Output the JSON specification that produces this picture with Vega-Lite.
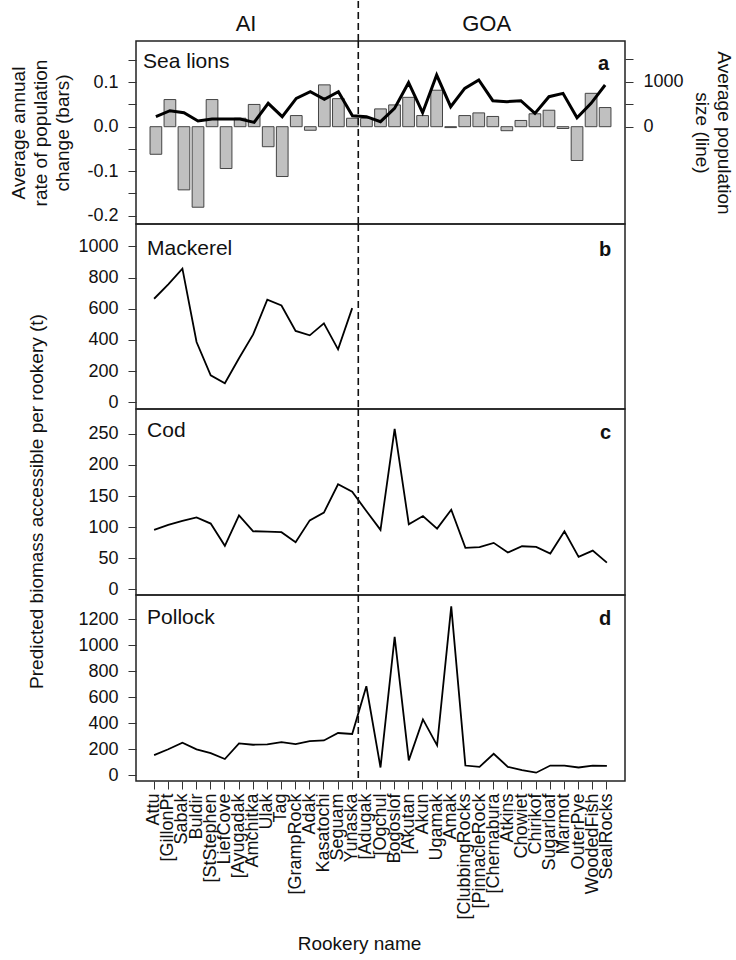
{
  "$schema": "https://vega.github.io/schema/vega-lite/v6.json",
  "padding": {"left": 9, "top": 0, "right": 5, "bottom": 5},
  "config": {
    "font": "Liberation Sans",
    "view": {"stroke": "#222", "strokeWidth": 1.5},
    "axis": {"labelFont": "Liberation Sans", "labelFontSize": 18, "labelColor": "#111", "tickColor": "#333", "tickSize": 8, "tickWidth": 1, "domain": false, "grid": false, "titleFont": "Liberation Sans", "titleFontSize": 19, "titleFontWeight": "normal", "titleColor": "#111", "labelPadding": 10, "labelOverlap": false},
    "axisQuantitative": {"labelOverlap": false},
    "concat": {"spacing": 0}
  },
  "datasets": {
    "rk": [
      {"r": "Attu", "bar": -0.062, "pop": 222, "mack": 664, "cod": 95.7, "pol": 155},
      {"r": "GillonPt", "bar": 0.061, "pop": 356, "mack": 757, "cod": 103.7, "pol": 200},
      {"r": "Sabak", "bar": -0.142, "pop": 311, "mack": 857, "cod": 110, "pol": 250},
      {"r": "Buldir", "bar": -0.181, "pop": 126, "mack": 386, "cod": 115.8, "pol": 200},
      {"r": "StStephen", "bar": 0.061, "pop": 170, "mack": 172, "cod": 105.8, "pol": 170},
      {"r": "LiefCove", "bar": -0.094, "pop": 170, "mack": 121, "cod": 70, "pol": 125},
      {"r": "Ayugadak", "bar": 0.019, "pop": 170, "mack": 282, "cod": 119, "pol": 245},
      {"r": "Amchitka", "bar": 0.05, "pop": 96, "mack": 435, "cod": 93.5, "pol": 235},
      {"r": "Ulak", "bar": -0.045, "pop": 519, "mack": 658, "cod": 93, "pol": 238},
      {"r": "Tag", "bar": -0.112, "pop": 222, "mack": 621, "cod": 92, "pol": 255},
      {"r": "GrampRock", "bar": 0.025, "pop": 630, "mack": 457, "cod": 76, "pol": 240},
      {"r": "Adak", "bar": -0.008, "pop": 778, "mack": 429, "cod": 111, "pol": 262},
      {"r": "Kasatochi", "bar": 0.094, "pop": 607, "mack": 506, "cod": 123.5, "pol": 268},
      {"r": "Seguam", "bar": 0.063, "pop": 778, "mack": 339, "cod": 169, "pol": 325},
      {"r": "Yunaska", "bar": 0.019, "pop": 244, "mack": 604, "cod": 157, "pol": 318},
      {"r": "Adugak", "bar": 0.019, "pop": 222, "mack": null, "cod": 126, "pol": 685},
      {"r": "Ogchul", "bar": 0.04, "pop": 111, "mack": null, "cod": 95.7, "pol": 60},
      {"r": "Bogoslof", "bar": 0.049, "pop": 407, "mack": null, "cod": 258, "pol": 1065},
      {"r": "Akutan", "bar": 0.066, "pop": 978, "mack": null, "cod": 104.8, "pol": 115},
      {"r": "Akun", "bar": 0.025, "pop": 311, "mack": null, "cod": 118, "pol": 430},
      {"r": "Ugamak", "bar": 0.082, "pop": 1148, "mack": null, "cod": 97.8, "pol": 230},
      {"r": "Amak", "bar": -0.002, "pop": 444, "mack": null, "cod": 128, "pol": 1300},
      {"r": "ClubbingRocks", "bar": 0.025, "pop": 852, "mack": null, "cod": 66.7, "pol": 75},
      {"r": "PinnacleRock", "bar": 0.031, "pop": 1037, "mack": null, "cod": 67.8, "pol": 65},
      {"r": "Chernabura", "bar": 0.023, "pop": 578, "mack": null, "cod": 74.8, "pol": 165},
      {"r": "Atkins", "bar": -0.009, "pop": 556, "mack": null, "cod": 59.2, "pol": 65},
      {"r": "Chowiet", "bar": 0.014, "pop": 578, "mack": null, "cod": 69.4, "pol": 40},
      {"r": "Chirikof", "bar": 0.029, "pop": 296, "mack": null, "cod": 68.3, "pol": 20},
      {"r": "Sugarloaf", "bar": 0.037, "pop": 667, "mack": null, "cod": 57.6, "pol": 75},
      {"r": "Marmot", "bar": -0.004, "pop": 741, "mack": null, "cod": 93.5, "pol": 75},
      {"r": "OuterPye", "bar": -0.076, "pop": 200, "mack": null, "cod": 52.2, "pol": 60},
      {"r": "WoodedFish", "bar": 0.075, "pop": 519, "mack": null, "cod": 62.4, "pol": 75},
      {"r": "SealRocks", "bar": 0.043, "pop": 926, "mack": null, "cod": 43.1, "pol": 72}
    ]
  },
  "spacing": 0,
  "bounds": "flush",
  "resolve": {"scale": {"x": "independent", "y": "independent"}},
  "vconcat": [
    {
      "width": 489, "height": 40,
      "view": {"stroke": null},
      "data": {"values": [{"t": "AI", "r": "Ayugadak"}, {"t": "GOA", "r": "PinnacleRock"}]},
      "layer": [
        {
          "mark": {"type": "text", "fontSize": 22, "baseline": "middle", "align": "center", "dy": 3, "color": "#111"},
          "encoding": {
            "x": {"field": "r", "type": "nominal", "bandPosition": 1, "axis": null,
              "scale": {"type": "band", "paddingInner": 0, "paddingOuter": 0.78, "domain": ["Attu","GillonPt","Sabak","Buldir","StStephen","LiefCove","Ayugadak","Amchitka","Ulak","Tag","GrampRock","Adak","Kasatochi","Seguam","Yunaska","Adugak","Ogchul","Bogoslof","Akutan","Akun","Ugamak","Amak","ClubbingRocks","PinnacleRock","Chernabura","Atkins","Chowiet","Chirikof","Sugarloaf","Marmot","OuterPye","WoodedFish","SealRocks"]}},
            "text": {"field": "t"}
          }
        },
        {
          "data": {"values": [{"r": "Yunaska"}]},
          "mark": {"type": "rule", "strokeDash": [7, 4], "strokeWidth": 1.6, "color": "#111"},
          "encoding": {"x": {"field": "r", "type": "nominal", "bandPosition": 0.93, "axis": null}}
        }
      ]
    },
    {
      "width": 489, "height": 183,
      "layer": [
        {
          "layer": [
            {
              "data": {"name": "rk"},
              "mark": {"type": "bar", "fill": "#c0c0c0", "stroke": "#444", "strokeWidth": 1},
              "encoding": {
                "x": {"field": "r", "type": "nominal", "axis": null,
                  "scale": {"type": "band", "paddingInner": 0.1667, "paddingOuter": 1.31, "domain": ["Attu","GillonPt","Sabak","Buldir","StStephen","LiefCove","Ayugadak","Amchitka","Ulak","Tag","GrampRock","Adak","Kasatochi","Seguam","Yunaska","Adugak","Ogchul","Bogoslof","Akutan","Akun","Ugamak","Amak","ClubbingRocks","PinnacleRock","Chernabura","Atkins","Chowiet","Chirikof","Sugarloaf","Marmot","OuterPye","WoodedFish","SealRocks"]}},
                "y": {"field": "bar", "type": "quantitative",
                  "scale": {"domain": [-0.2187, 0.1926], "nice": false, "zero": false},
                  "axis": {"orient": "left", "values": [-0.2, -0.15, -0.1, -0.05, 0, 0.05, 0.1, 0.15], "labelOverlap": false,
                    "labelExpr": "abs(datum.value*10 - round(datum.value*10)) < 0.001 ? replace(format(datum.value, '.1f'), '\u2212', '-') : ''",
                    "title": ["Average annual", "rate of population", "change (bars)"], "titleLineHeight": 22, "titlePadding": 14}}
              }
            },
            {
              "data": {"values": [{"r": "Yunaska"}]},
              "mark": {"type": "rule", "strokeDash": [7, 4], "strokeWidth": 1.6, "color": "#111"},
              "encoding": {"x": {"field": "r", "type": "nominal", "bandPosition": 1}}
            },
            {
              "data": {"values": [{"r": "Attu", "v": 0.145, "t": "Sea lions"}]},
              "mark": {"type": "text", "fontSize": 21, "align": "left", "baseline": "middle", "color": "#111"},
              "encoding": {"x": {"field": "r", "type": "nominal", "bandPosition": -0.6},
                "y": {"field": "v", "type": "quantitative",
                  "axis": {"orient": "left", "values": [-0.2, -0.15, -0.1, -0.05, 0, 0.05, 0.1, 0.15], "labelOverlap": false,
                    "labelExpr": "abs(datum.value*10 - round(datum.value*10)) < 0.001 ? replace(format(datum.value, '.1f'), '\u2212', '-') : ''",
                    "title": ["Average annual", "rate of population", "change (bars)"], "titleLineHeight": 22, "titlePadding": 14}},
                "text": {"field": "t"}}
            },
            {
              "data": {"values": [{"r": "SealRocks", "v": 0.14, "t": "a"}]},
              "mark": {"type": "text", "fontSize": 20, "fontWeight": "bold", "align": "right", "baseline": "middle", "color": "#111"},
              "encoding": {"x": {"field": "r", "type": "nominal", "bandPosition": 0.85},
                "y": {"field": "v", "type": "quantitative",
                  "axis": {"orient": "left", "values": [-0.2, -0.15, -0.1, -0.05, 0, 0.05, 0.1, 0.15], "labelOverlap": false,
                    "labelExpr": "abs(datum.value*10 - round(datum.value*10)) < 0.001 ? replace(format(datum.value, '.1f'), '\u2212', '-') : ''",
                    "title": ["Average annual", "rate of population", "change (bars)"], "titleLineHeight": 22, "titlePadding": 14}},
                "text": {"field": "t"}}
            }
          ]
        },
        {
          "data": {"name": "rk"},
          "mark": {"type": "line", "color": "#000", "strokeWidth": 3},
          "encoding": {
            "x": {"field": "r", "type": "nominal"},
            "y": {"field": "pop", "type": "quantitative",
              "scale": {"domain": [-2162, 1904], "nice": false, "zero": false},
              "axis": {"orient": "right", "values": [0, 500, 1000, 1500], "labelOverlap": false,
                "labelExpr": "datum.value == 0 || datum.value == 1000 ? datum.value + '' : ''",
                "title": ["Average population", "size (line)"], "titleLineHeight": 22, "titlePadding": 8}}
          }
        }
      ],
      "resolve": {"scale": {"y": "independent"}}
    },
    {
      "width": 489, "height": 185,
      "data": {"name": "rk"},
      "layer": [
        {
          "transform": [{"filter": "datum.mack != null"}],
          "mark": {"type": "line", "color": "#000", "strokeWidth": 1.8},
          "encoding": {
            "x": {"field": "r", "type": "nominal", "axis": null,
              "scale": {"type": "band", "paddingInner": 0, "paddingOuter": 0.78, "domain": ["Attu","GillonPt","Sabak","Buldir","StStephen","LiefCove","Ayugadak","Amchitka","Ulak","Tag","GrampRock","Adak","Kasatochi","Seguam","Yunaska","Adugak","Ogchul","Bogoslof","Akutan","Akun","Ugamak","Amak","ClubbingRocks","PinnacleRock","Chernabura","Atkins","Chowiet","Chirikof","Sugarloaf","Marmot","OuterPye","WoodedFish","SealRocks"]}},
            "y": {"field": "mack", "type": "quantitative",
              "scale": {"domain": [-44, 1144], "nice": false, "zero": false},
              "axis": {"values": [0, 200, 400, 600, 800, 1000], "format": "d", "labelOverlap": false, "title": null}}
          }
        },
        {
          "data": {"values": [{"r": "Yunaska"}]},
          "mark": {"type": "rule", "strokeDash": [7, 4], "strokeWidth": 1.6, "color": "#111"},
          "encoding": {"x": {"field": "r", "type": "nominal", "bandPosition": 0.93}}
        },
        {
          "data": {"values": [{"r": "Attu", "v": 986, "t": "Mackerel"}]},
          "mark": {"type": "text", "fontSize": 21, "align": "left", "baseline": "middle", "color": "#111"},
          "encoding": {"x": {"field": "r", "type": "nominal", "bandPosition": 0},
            "y": {"field": "v", "type": "quantitative", "axis": {"values": [0, 200, 400, 600, 800, 1000], "format": "d", "labelOverlap": false, "title": null}},
            "text": {"field": "t"}}
        },
        {
          "data": {"values": [{"r": "SealRocks", "v": 980, "t": "b"}]},
          "mark": {"type": "text", "fontSize": 20, "fontWeight": "bold", "align": "right", "baseline": "middle", "color": "#111"},
          "encoding": {"x": {"field": "r", "type": "nominal", "bandPosition": 0.8},
            "y": {"field": "v", "type": "quantitative", "axis": {"values": [0, 200, 400, 600, 800, 1000], "format": "d", "labelOverlap": false, "title": null}},
            "text": {"field": "t"}}
        }
      ]
    },
    {
      "width": 489, "height": 186,
      "data": {"name": "rk"},
      "layer": [
        {
          "mark": {"type": "line", "color": "#000", "strokeWidth": 1.8},
          "encoding": {
            "x": {"field": "r", "type": "nominal", "axis": null,
              "scale": {"type": "band", "paddingInner": 0, "paddingOuter": 0.78, "domain": ["Attu","GillonPt","Sabak","Buldir","StStephen","LiefCove","Ayugadak","Amchitka","Ulak","Tag","GrampRock","Adak","Kasatochi","Seguam","Yunaska","Adugak","Ogchul","Bogoslof","Akutan","Akun","Ugamak","Amak","ClubbingRocks","PinnacleRock","Chernabura","Atkins","Chowiet","Chirikof","Sugarloaf","Marmot","OuterPye","WoodedFish","SealRocks"]}},
            "y": {"field": "cod", "type": "quantitative",
              "scale": {"domain": [-9, 290], "nice": false, "zero": false},
              "axis": {"values": [0, 50, 100, 150, 200, 250], "format": "d", "labelOverlap": false, "title": "Predicted biomass accessible per rookery (t)", "titleLimit": 1000, "titleX": -100, "titleY": 92, "titleAlign": "center", "titleBaseline": "middle", "titleAngle": 270}}
          }
        },
        {
          "data": {"values": [{"r": "Yunaska"}]},
          "mark": {"type": "rule", "strokeDash": [7, 4], "strokeWidth": 1.6, "color": "#111"},
          "encoding": {"x": {"field": "r", "type": "nominal", "bandPosition": 0.93}}
        },
        {
          "data": {"values": [{"r": "Attu", "v": 254, "t": "Cod"}]},
          "mark": {"type": "text", "fontSize": 21, "align": "left", "baseline": "middle", "color": "#111"},
          "encoding": {"x": {"field": "r", "type": "nominal", "bandPosition": 0},
            "y": {"field": "v", "type": "quantitative", "axis": {"values": [0, 50, 100, 150, 200, 250], "format": "d", "labelOverlap": false, "title": "Predicted biomass accessible per rookery (t)", "titleLimit": 1000, "titleX": -100, "titleY": 92, "titleAlign": "center", "titleBaseline": "middle", "titleAngle": 270}},
            "text": {"field": "t"}}
        },
        {
          "data": {"values": [{"r": "SealRocks", "v": 252, "t": "c"}]},
          "mark": {"type": "text", "fontSize": 20, "fontWeight": "bold", "align": "right", "baseline": "middle", "color": "#111"},
          "encoding": {"x": {"field": "r", "type": "nominal", "bandPosition": 0.8},
            "y": {"field": "v", "type": "quantitative", "axis": {"values": [0, 50, 100, 150, 200, 250], "format": "d", "labelOverlap": false, "title": "Predicted biomass accessible per rookery (t)", "titleLimit": 1000, "titleX": -100, "titleY": 92, "titleAlign": "center", "titleBaseline": "middle", "titleAngle": 270}},
            "text": {"field": "t"}}
        }
      ]
    },
    {
      "width": 489, "height": 186,
      "data": {"name": "rk"},
      "layer": [
        {
          "mark": {"type": "line", "color": "#000", "strokeWidth": 1.8},
          "encoding": {
            "x": {"field": "r", "type": "nominal",
              "scale": {"type": "band", "paddingInner": 0, "paddingOuter": 0.78, "domain": ["Attu","GillonPt","Sabak","Buldir","StStephen","LiefCove","Ayugadak","Amchitka","Ulak","Tag","GrampRock","Adak","Kasatochi","Seguam","Yunaska","Adugak","Ogchul","Bogoslof","Akutan","Akun","Ugamak","Amak","ClubbingRocks","PinnacleRock","Chernabura","Atkins","Chowiet","Chirikof","Sugarloaf","Marmot","OuterPye","WoodedFish","SealRocks"]},
              "axis": {"labelAngle": 270, "labelOverlap": false, "labelPadding": 4, "tickSize": 8, "labelLimit": 300,
                "labelExpr": "indexof(['GillonPt','StStephen','Ayugadak','GrampRock','Adugak','Ogchul','Akutan','ClubbingRocks','PinnacleRock','Chernabura'], datum.value) >= 0 ? '[' + datum.value : datum.value",
                "title": "Rookery name", "titleX": 223, "titleY": 162, "titleBaseline": "middle", "titleAlign": "center"}},
            "y": {"field": "pol", "type": "quantitative",
              "scale": {"domain": [-44, 1387], "nice": false, "zero": false},
              "axis": {"values": [0, 200, 400, 600, 800, 1000, 1200], "format": "d", "labelOverlap": false, "title": null}}
          }
        },
        {
          "data": {"values": [{"r": "Yunaska"}]},
          "mark": {"type": "rule", "strokeDash": [7, 4], "strokeWidth": 1.6, "color": "#111"},
          "encoding": {"x": {"field": "r", "type": "nominal", "bandPosition": 0.93}}
        },
        {
          "data": {"values": [{"r": "Attu", "v": 1210, "t": "Pollock"}]},
          "mark": {"type": "text", "fontSize": 21, "align": "left", "baseline": "middle", "color": "#111"},
          "encoding": {"x": {"field": "r", "type": "nominal", "bandPosition": 0},
            "y": {"field": "v", "type": "quantitative", "axis": {"values": [0, 200, 400, 600, 800, 1000, 1200], "format": "d", "labelOverlap": false, "title": null}},
            "text": {"field": "t"}}
        },
        {
          "data": {"values": [{"r": "SealRocks", "v": 1200, "t": "d"}]},
          "mark": {"type": "text", "fontSize": 20, "fontWeight": "bold", "align": "right", "baseline": "middle", "color": "#111"},
          "encoding": {"x": {"field": "r", "type": "nominal", "bandPosition": 0.8},
            "y": {"field": "v", "type": "quantitative", "axis": {"values": [0, 200, 400, 600, 800, 1000, 1200], "format": "d", "labelOverlap": false, "title": null}},
            "text": {"field": "t"}}
        }
      ]
    }
  ]
}
